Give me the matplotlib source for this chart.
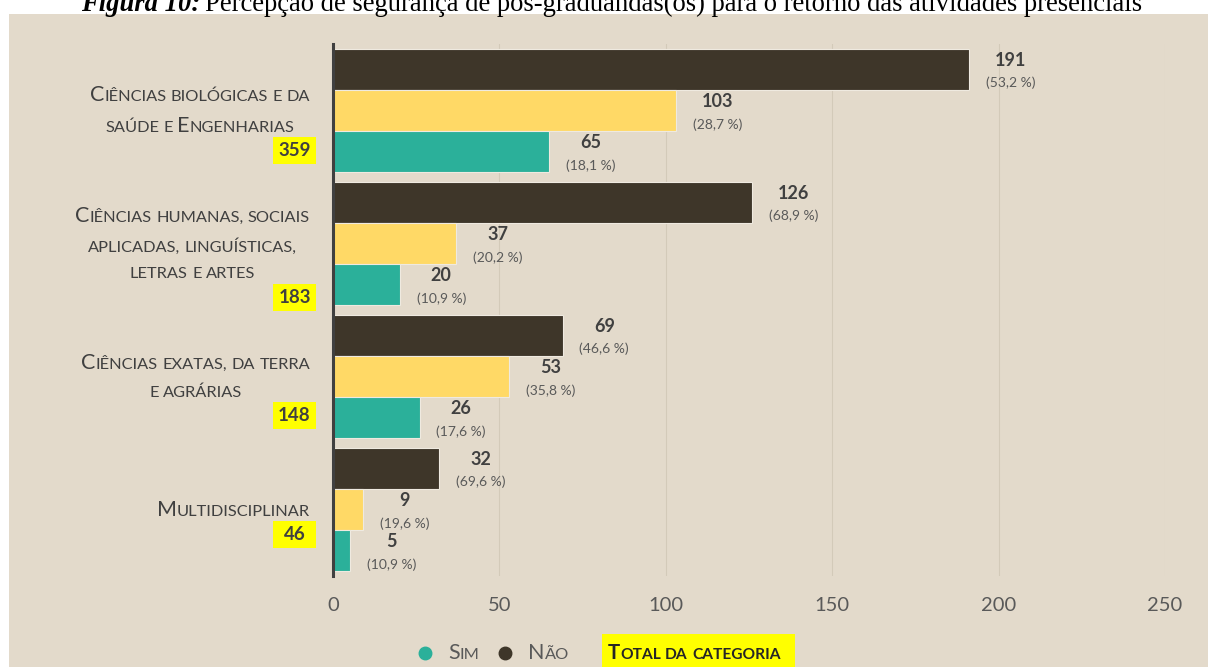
import numpy as np
import matplotlib
matplotlib.use("Agg")
import matplotlib.pyplot as plt
import matplotlib.transforms as mtransforms
from matplotlib.offsetbox import TextArea, HPacker, VPacker, DrawingArea, AnnotationBbox
from matplotlib.patches import Rectangle
from matplotlib.lines import Line2D

plt.rcParams['font.family'] = ['Lato', 'DejaVu Sans']

# dados
categorias = ["Ciências biológicas e da\nsaúde e Engenharias",
              "Ciências humanas, sociais\naplicadas, linguísticas,\nletras e artes",
              "Ciências exatas, da terra\ne agrárias",
              "Multidisciplinar"]
totais = [359, 183, 148, 46]
nao = [191, 126, 69, 32]
nao_pct = ["53,2", "68,9", "46,6", "69,6"]
meio = [103, 37, 53, 9]
meio_pct = ["28,7", "20,2", "35,8", "19,6"]
sim = [65, 20, 26, 5]
sim_pct = ["18,1", "10,9", "17,6", "10,9"]
xticks = [0, 50, 100, 150, 200, 250]

titulo_a = "Figura 10:"
titulo_b = "Percepção de segurança de pós-graduandas(os) para o retorno das atividades presenciais"

FUNDO = "#E3DACB"
ESCURO = "#3E3629"
AMARELO = "#FFD966"
VERDE = "#2BB09A"
GRADE = "#D3CAB9"
TXT = "#404040"
TXT2 = "#595959"

W, H = 1208, 667
BIG, SMALL = 15.5, 11.8


def versalete(texto, big=BIG, small=SMALL, weight="normal", color=TXT):
    # simula small caps: maiúsculas grandes, minúsculas em caixa alta menor
    filhos = []
    for k, palavra in enumerate(texto.split(" ")):
        if k:
            filhos.append(DrawingArea(0.27 * small, 1))
        run, grande = "", None
        for ch in palavra:
            g = ch.isupper() or ch.isdigit()
            if not ch.isalpha() and not ch.isdigit():
                g = grande if grande is not None else False
            if run and g != grande:
                filhos.append(TextArea(run.upper(), textprops=dict(size=big if grande else small,
                                                                   weight=weight, color=color)))
                run = ""
            run += ch
            grande = g
        filhos.append(TextArea(run.upper(), textprops=dict(size=big if grande else small,
                                                           weight=weight, color=color)))
    return HPacker(children=filhos, align="baseline", pad=0, sep=0)


fig = plt.figure(figsize=(W / 100, H / 100), dpi=100, facecolor="white")
fig.add_artist(Rectangle((9 / W, 0), 1, 1 - 14 / H, transform=fig.transFigure,
                         facecolor=FUNDO, edgecolor="none", zorder=0))

ax = fig.add_axes([333 / W, 1 - 576 / H, 832 / W, 532 / H])
ax.set_facecolor("none")

y = np.arange(len(categorias))
h = 0.31
series = [(nao, nao_pct, ESCURO, -h), (meio, meio_pct, AMARELO, 0), (sim, sim_pct, VERDE, h)]
for vals, pcts, cor, off in series:
    ax.barh(y + off, vals, height=h, color=cor, edgecolor="#EFEAE0", linewidth=0.8, zorder=3)
    for yi, v, p in zip(y, vals, pcts):
        ax.annotate(str(v), (v, yi + off), xytext=(30, 6.5), textcoords="offset points",
                    ha="center", va="center", fontsize=13, fontweight="bold", color=TXT)
        ax.annotate("(" + p + " %)", (v, yi + off), xytext=(30, -10), textcoords="offset points",
                    ha="center", va="center", fontsize=10, color=TXT2)

ax.set_xlim(0, 250)
ax.set_ylim(len(categorias) - 0.5, -0.5)
ax.set_xticks(xticks)
ax.set_yticks([])
ax.tick_params(axis="x", length=0, pad=15, labelsize=14.5, labelcolor=TXT2)
ax.xaxis.grid(True, color=GRADE, linewidth=0.8, zorder=0)
ax.set_axisbelow(True)
for s in ["top", "right", "bottom"]:
    ax.spines[s].set_visible(False)
ax.spines["left"].set_color(TXT)
ax.spines["left"].set_linewidth(2.2)
ax.spines["left"].set_zorder(5)

# rótulos das categorias e totais
blend = mtransforms.blended_transform_factory(fig.transFigure, ax.transData)
passo = 29 / 133
for i, (cat, tot) in enumerate(zip(categorias, totais)):
    linhas = cat.split("\n")
    caixa = VPacker(children=[versalete(l) for l in linhas], align="center", pad=0, sep=8.5)
    ax.add_artist(AnnotationBbox(caixa, (310, i), xycoords=("figure pixels", "data"),
                                 box_alignment=(1, 0.5), frameon=False, pad=0,
                                 annotation_clip=False))
    cy = i + (len(linhas) - 1) / 2 * passo + 25 / 133
    fig.add_artist(Rectangle((273 / W, cy - 13.5 / 133), 43 / W, 27 / 133, transform=blend,
                             facecolor="#FFFF00", edgecolor="none", zorder=4))
    fig.text(294.5 / W, cy, str(tot), transform=blend, ha="center", va="center",
             fontsize=13.5, fontweight="bold", color=TXT, zorder=5)

# legenda
ly = 1 - 653 / H
fig.add_artist(Line2D([425 / W], [ly], transform=fig.transFigure, marker="o", ms=9,
                      color=VERDE, linestyle="none"))
fig.add_artist(Line2D([505 / W], [ly], transform=fig.transFigure, marker="o", ms=9,
                      color=ESCURO, linestyle="none"))
for x0, txt in [(448, "Sim"), (528, "Não")]:
    fig.add_artist(AnnotationBbox(versalete(txt, color=TXT2), (x0, H - 653), xycoords="figure pixels",
                                  box_alignment=(0, 0.5), frameon=False, pad=0, annotation_clip=False))
fig.add_artist(Rectangle((602 / W, 0), 193 / W, 33 / H, transform=fig.transFigure,
                         facecolor="#FFFF00", edgecolor="none", zorder=4))
leg_total = AnnotationBbox(versalete("Total da categoria", big=14.7, small=11.2, weight="bold",
                                     color="#262626"),
                           (608, H - 653), xycoords="figure pixels", box_alignment=(0, 0.5),
                           frameon=False, pad=0, annotation_clip=False)
leg_total.set_zorder(6)
fig.add_artist(leg_total)

# título (cortado no topo, como no original)
tit = HPacker(children=[TextArea(titulo_a, textprops=dict(size=19.2, weight="bold", style="italic",
                                                          family="Liberation Serif")),
                        DrawingArea(4, 1),
                        TextArea(titulo_b, textprops=dict(size=19.2, family="Liberation Serif"))],
              align="baseline", pad=0, sep=0)
ax.add_artist(AnnotationBbox(tit, (611.5, H - 17), xycoords="figure pixels", box_alignment=(0.5, 0),
                             frameon=False, pad=0, annotation_clip=False))

fig.savefig("out.png", dpi=100, facecolor="white")
